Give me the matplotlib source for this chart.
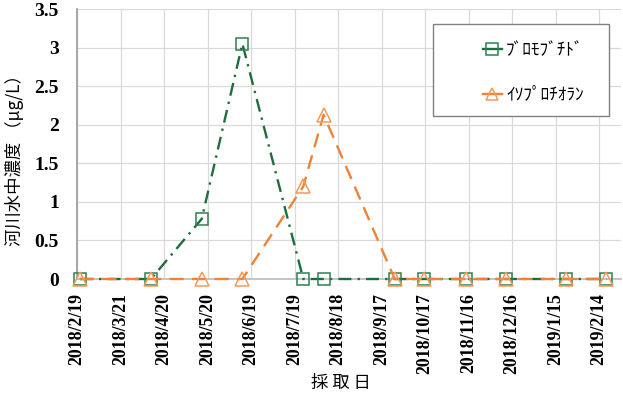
import numpy as np
import matplotlib
matplotlib.use("Agg")
import matplotlib.pyplot as plt
from matplotlib.patches import Rectangle
from matplotlib.lines import Line2D

# sampling dates and measured concentrations (ug/L)
dates = ["2018-02-21", "2018-04-11", "2018-05-16", "2018-06-13", "2018-07-25", "2018-08-08",
         "2018-09-26", "2018-10-16", "2018-11-14", "2018-12-12", "2019-01-22", "2019-02-19"]
bromobutide = [0, 0, 0.78, 3.05, 0, 0, 0, 0, 0, 0, 0, 0]
isoprothiolane = [0, 0, 0, 0, 1.2, 2.13, 0, 0, 0, 0, 0, 0]

tick_labels = ["2018/2/19", "2018/3/21", "2018/4/20", "2018/5/20", "2018/6/19", "2018/7/19",
               "2018/8/18", "2018/9/17", "2018/10/17", "2018/11/16", "2018/12/16",
               "2019/1/15", "2019/2/14"]
yticks = [0, 0.5, 1, 1.5, 2, 2.5, 3, 3.5]

names = ["ﾌﾞﾛﾓﾌﾞﾁﾄﾞ", "ｲｿﾌﾟﾛﾁｵﾗﾝ"]

def to_date(s):
    y, m, d = s.split("/")
    return np.datetime64("%s-%02d-%02d" % (y, int(m), int(d)))

x = np.array(dates, dtype="datetime64[D]")
tick_pos = [to_date(s) for s in tick_labels]

green = "#1d6e3e"
green_mk = "#2f8050"
orange = "#ee8336"
orange_mk = "#f29a5a"

fig = plt.figure(figsize=(6.23, 3.96), dpi=100)
W, H = 623, 396
ax = fig.add_axes([77 / W, 1 - 279 / H, (621 - 77) / W, (279 - 9) / H])

ax.plot(x, bromobutide, color=green, lw=1.7, marker="s", ms=9, mew=1.1,
        mec=green_mk, fillstyle="none", dashes=(5.5, 2.6, 1, 2.6), zorder=3, clip_on=False)
ax.plot(x, isoprothiolane, color=orange, lw=1.7, marker="^", ms=9.5, mew=1.1,
        mec=orange_mk, fillstyle="none", dashes=(6, 3.5), zorder=3, clip_on=False)

ax.set_ylim(0, 3.5)
ax.set_yticks(yticks)
ax.set_yticklabels([("%g" % v) for v in yticks])
ax.set_xlim(np.datetime64("2018-02-19"), np.datetime64("2019-03-01"))
ax.set_xticks(tick_pos)
ax.set_xticklabels(tick_labels, rotation=90)

for lab in ax.get_yticklabels():
    lab.set_fontfamily("Liberation Serif")
    lab.set_fontweight("bold")
    lab.set_fontsize(14)
for lab in ax.get_xticklabels():
    lab.set_fontfamily("Liberation Serif")
    lab.set_fontweight("bold")
    lab.set_fontsize(12.8)
ax.tick_params(axis="both", length=0)
ax.tick_params(axis="y", pad=13)
ax.tick_params(axis="x", pad=10)

ax.grid(True, color="#d9d9d9", lw=0.9)
ax.set_axisbelow(True)
for s in ["top", "right"]:
    ax.spines[s].set_visible(False)
ax.spines["left"].set_color("#a0a0a0")
ax.spines["left"].set_linewidth(1.3)
ax.spines["bottom"].set_color("#bfbfbf")
ax.spines["bottom"].set_linewidth(1.3)

fig.text(15 / W, 1 - 156 / H, "河川水中濃度 （μg/L）", rotation=90, ha="center", va="center",
         fontsize=12.5, family=["Noto Sans CJK JP", "DejaVu Sans"])
fig.text(341 / W, 1 - 383 / H, "採 取 日", ha="center", va="center",
         fontsize=12.5, family=["Noto Sans CJK JP", "DejaVu Sans"])

# legend box
box = Rectangle((433 / W, 1 - 116 / H), (609 - 433) / W, (116 - 24) / H,
                transform=fig.transFigure, facecolor="white", edgecolor="#808080",
                lw=1.0, zorder=4, clip_on=False)
ax.add_patch(box)
handles = [Line2D([], [], color=green, lw=1.7, marker="s", ms=8, mew=1.1, mec=green_mk,
                  fillstyle="none"),
           Line2D([], [], color=orange, lw=1.7, marker="^", ms=8.5, mew=1.1, mec=orange_mk,
                  fillstyle="none")]
leg = ax.legend(handles, names, loc="upper left", bbox_to_anchor=(474 / W, 1 - 32 / H),
                bbox_transform=fig.transFigure, frameon=False, borderpad=0,
                handlelength=1.1, handletextpad=0.25, labelspacing=1.55,
                prop={"family": ["Noto Sans CJK JP", "DejaVu Sans"], "size": 12.5})
leg.set_zorder(5)

fig.savefig("out.png", dpi=100)
